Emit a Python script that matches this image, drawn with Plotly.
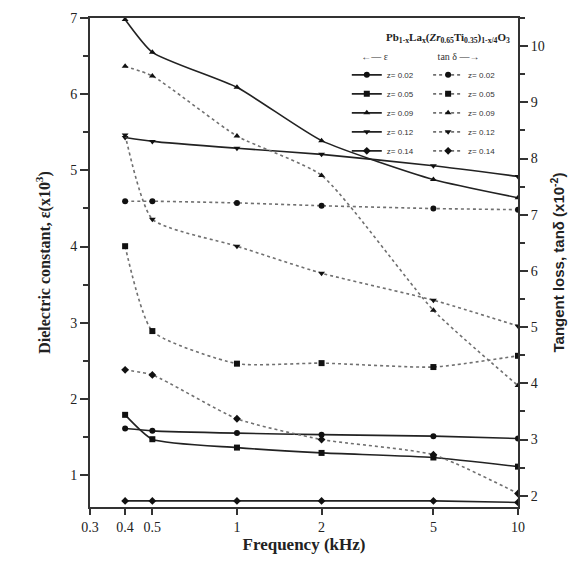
import plotly.graph_objects as go

# ---------------- data ----------------
freq_khz = [0.4, 0.5, 1, 2, 5, 10]
z_labels = ["z= 0.02", "z= 0.05", "z= 0.09", "z= 0.12", "z= 0.14"]

# dielectric constant (x10^3), left axis
eps_z002 = [1.61, 1.58, 1.55, 1.53, 1.51, 1.48]
eps_z005 = [1.79, 1.47, 1.36, 1.29, 1.23, 1.11]
eps_z009 = [6.98, 6.55, 6.09, 5.39, 4.88, 4.64]
eps_z012 = [5.43, 5.38, 5.29, 5.21, 5.06, 4.92]
eps_z014 = [0.66, 0.66, 0.66, 0.66, 0.66, 0.64]

# tangent loss (x10^-2), right axis
tan_z002 = [7.24, 7.24, 7.21, 7.16, 7.11, 7.09]
tan_z005 = [6.44, 4.93, 4.35, 4.36, 4.29, 4.49]
tan_z009 = [9.64, 9.47, 8.40, 7.70, 5.30, 3.96]
tan_z012 = [8.42, 6.92, 6.44, 5.96, 5.48, 5.02]
tan_z014 = [4.24, 4.15, 3.37, 3.00, 2.73, 2.04]

x_tickvals = [0.3, 0.4, 0.5, 1, 2, 5, 10]
x_ticktext = ["0.3", "0.4", "0.5", "1", "2", "5", "10"]
y_tickvals = [1, 2, 3, 4, 5, 6, 7]
y2_tickvals = [2, 3, 4, 5, 6, 7, 8, 9, 10]

symbols = ["circle", "square", "triangle-up", "triangle-down", "diamond"]
eps_series = [eps_z002, eps_z005, eps_z009, eps_z012, eps_z014]
tan_series = [tan_z002, tan_z005, tan_z009, tan_z012, tan_z014]

SERIF = "Liberation Serif, Times New Roman, serif"
SANS = "Liberation Sans, Arial, sans-serif"

fig = go.Figure()

for lab, sym, vals in zip(z_labels, symbols, eps_series):
    fig.add_trace(go.Scatter(
        x=freq_khz, y=vals, name=lab, mode="lines+markers",
        line=dict(color="#222222", width=1.6, shape="spline", smoothing=0.55),
        marker=dict(symbol=sym, size=6, color="#111111"),
        legend="legend", yaxis="y"))

for lab, sym, vals in zip(z_labels, symbols, tan_series):
    fig.add_trace(go.Scatter(
        x=freq_khz, y=vals, name=lab, mode="lines+markers",
        line=dict(color="#707070", width=1.6, dash="dot", shape="spline", smoothing=0.55),
        marker=dict(symbol=sym, size=6, color="#111111"),
        legend="legend2", yaxis="y2"))

fig.update_layout(
    width=576, height=564,
    margin=dict(l=82, r=66, t=10, b=65),
    paper_bgcolor="white", plot_bgcolor="white",
    font=dict(family=SERIF, color="#222222", size=13),
    xaxis=dict(
        type="log", range=[-0.5229, 1.0], automargin=False,
        tickvals=x_tickvals, ticktext=x_ticktext,
        ticks="outside", ticklen=6, tickwidth=1.5, tickcolor="#333",
        showline=True, linecolor="#333", linewidth=2, mirror=True,
        showgrid=False, zeroline=False,
        tickfont=dict(family=SERIF, size=14, color="#222"),
        title=dict(text="<b>Frequency (kHz)</b>", font=dict(family=SERIF, size=17, color="#222"), standoff=4),
    ),
    yaxis=dict(
        range=[0.58, 7.0], tickvals=y_tickvals, automargin=False,
        ticks="outside", ticklen=8, tickwidth=1.5, tickcolor="#333",
        minor=dict(dtick=0.5, tick0=0.5, ticks="outside", ticklen=5, tickcolor="#333"),
        showline=True, linecolor="#333", linewidth=2,
        showgrid=False, zeroline=False,
        tickfont=dict(family=SERIF, size=14, color="#222"),
        title=dict(text="<b>Dielectric constant, ε(x10<sup>3</sup>)</b>",
                   font=dict(family=SERIF, size=16, color="#222"), standoff=16),
    ),
    yaxis2=dict(
        overlaying="y", side="right", automargin=False,
        range=[1.8, 10.5], tickvals=y2_tickvals,
        ticks="outside", ticklen=8, tickwidth=1.5, tickcolor="#333",
        minor=dict(dtick=0.5, tick0=0.5, ticks="outside", ticklen=5, tickcolor="#333"),
        showline=True, linecolor="#333", linewidth=2,
        showgrid=False, zeroline=False,
        tickfont=dict(family=SERIF, size=14, color="#222"),
        title=dict(text="<b>Tangent loss, tanδ (x10<sup>-2</sup>)</b>",
                   font=dict(family=SANS, size=15, color="#222"), standoff=10),
    ),
    legend=dict(
        x=0.6, y=0.94, xanchor="left", yanchor="top",
        bgcolor="rgba(0,0,0,0)", borderwidth=0,
        font=dict(family=SANS, size=8, color="#333"),
        itemwidth=30, tracegroupgap=0,
        title=dict(text="     ←— ε", font=dict(family=SERIF, size=10, color="#333")),
    ),
    legend2=dict(
        x=0.79, y=0.94, xanchor="left", yanchor="top",
        bgcolor="rgba(0,0,0,0)", borderwidth=0,
        font=dict(family=SANS, size=8, color="#333"),
        itemwidth=30, tracegroupgap=0,
        title=dict(text="   tan δ —→", font=dict(family=SERIF, size=10, color="#333")),
    ),
    showlegend=True,
)

fig.add_annotation(
    xref="paper", yref="paper", x=0.985, y=0.978, xanchor="right", yanchor="top",
    text="<b>Pb<sub>1-x</sub>La<sub>x</sub>(<i>Zr</i><sub>0.65</sub>Ti<sub>0.35</sub>)<sub>1-x/4</sub>O<sub>3</sub></b>",
    showarrow=False, font=dict(family=SERIF, size=11, color="#222"))

fig.write_html("out.html")
